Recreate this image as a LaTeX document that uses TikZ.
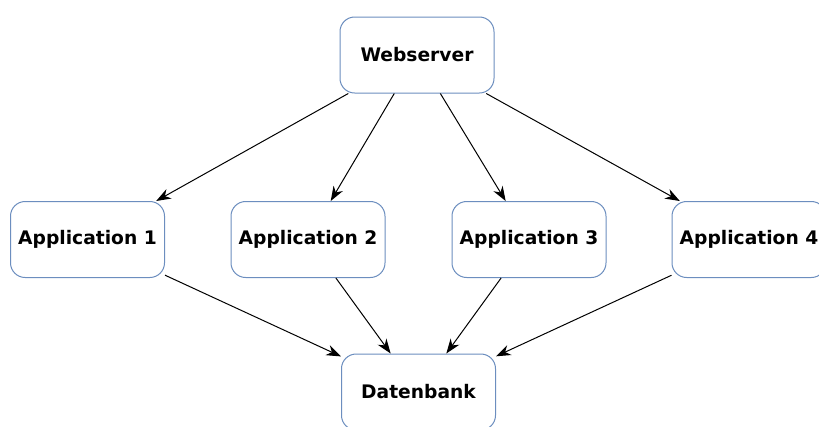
\documentclass[tikz,border=0pt]{standalone}
\usepackage{fontspec}
\setmainfont{DejaVu Sans}
\usetikzlibrary{arrows.meta}
\definecolor{boxblue}{HTML}{6C8EBF}
\begin{document}
\begin{tikzpicture}[x=0.75pt,y=-0.75pt,
  box/.style={draw=boxblue,line width=0.75pt,rounded corners=11pt,fill=white,
    minimum width=115.5pt,minimum height=57pt,inner sep=0pt,
    font=\fontsize{14pt}{16pt}\selectfont\bfseries},
  conn/.style={-{Stealth[length=11pt,width=8pt,inset=3.5pt]},line width=0.75pt,black}]
\useasboundingbox (0,0) rectangle (819,426);
\node[box] (ws) at (417,55) {Webserver};
\node[box] (a1) at (87.5,239.5) {Application 1};
\node[box] (a2) at (308,239.5) {Application 2};
\node[box] (a3) at (529,239.5) {Application 3};
\node[box] (a4) at (749,239.5) {Application 4};
\node[box] (db) at (418.5,392) {Datenbank};
\foreach \a in {a1,a2,a3,a4}{
  \draw[conn] (ws) -- (\a);
  \draw[conn] (\a) -- (db);
}
\end{tikzpicture}
\end{document}
